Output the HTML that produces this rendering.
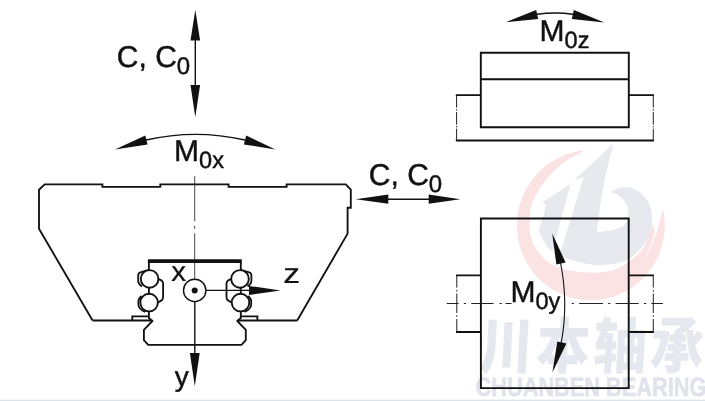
<!DOCTYPE html>
<html lang="zh">
<head>
<meta charset="utf-8">
<title>C, C0, M0x, M0y, M0z</title>
<style>
html,body{margin:0;padding:0;background:#fff;}
body{width:705px;height:401px;overflow:hidden;position:relative;}
svg{position:absolute;left:0;top:0;display:block;will-change:transform;}
text{text-rendering:geometricPrecision;font-family:"Liberation Sans","Noto Sans CJK SC",sans-serif;fill:#111;}
.o{fill:none;stroke:#111;stroke-width:1.85;stroke-linejoin:miter;stroke-linecap:butt;}
.t{fill:none;stroke:#111;stroke-width:1.4;}
.l{stroke:#111;stroke-width:0.45;}
.k{fill:none;stroke:#111;stroke-width:3.6;}
.c{fill:none;stroke:#222;stroke-width:1;}
.h{fill:#111;stroke:none;}
.b{fill:#fff;stroke:#111;stroke-width:1.9;}
.p{fill:none;stroke:#111;stroke-width:1.9;}
.r{fill:none;stroke:#111;stroke-width:1.8;}
</style>
</head>
<body>
<svg width="705" height="401" viewBox="0 0 705 401">
<rect x="0" y="0" width="705" height="401" fill="#fff"/>
<rect x="0" y="399" width="705" height="1" fill="#f3f6f7"/><rect x="0" y="400" width="705" height="1" fill="#dce3e7"/>

<!-- watermark logo -->
<g id="logo">
<path d="M584.9 150.3 A73.9 75.2 0 1 0 662.9 208.5 Q660.5 218 657.6 228 Q654 244 644 259.5 Q651.5 246 654.8 232 L653 224 C652.3 225.8 651.1 230.4 649.0 235.0 C646.9 239.6 646.0 245.8 640.5 251.5 C635.0 257.2 625.5 265.8 616.0 269.3 C606.5 272.8 594.5 273.1 583.8 272.3 C573.0 271.5 560.0 269.2 551.5 264.3 C543.0 259.4 536.4 250.1 532.8 242.7 C529.1 235.3 529.6 226.8 529.6 220.0 C529.6 213.2 530.1 208.3 532.8 201.7 C535.4 195.1 540.5 186.8 545.5 180.4 C550.5 174.0 556.0 168.4 562.6 163.4 C569.2 158.4 581.2 152.7 584.9 150.5 Z" fill="#fbe3e3"/>
<path d="M542.6 202 L570.5 184 L552.5 251.5 Q549.5 249.5 547.2 246.5 Q541 238 539 229 L543 217 L546 205 Z" fill="#e7e9ef"/>
<path d="M573.9 180.3 L592.3 163.4 L613.2 143.8 L605.8 175 L601.3 197.4 L596.8 232 Q611.4 232 622.6 226.6 Q628.4 222 628.4 213 Q628 204 622 198 Q617 193.5 610.3 192 Q621 185 633.5 188.5 Q646.5 194 651 209 Q653.5 222 650 234 Q642.5 251 626.5 260.5 Q606 267.5 587 264 Q571 261 559.5 255.5 L583.5 177.4 Z" fill="#e7e9ef"/>
</g>
<!-- watermark text -->
<g transform="translate(478.5,368.2) skewX(-3) scale(0.9,1.01)">
<text x="0" y="0" font-size="59.3" font-weight="900" letter-spacing="4" style="fill:#e6e8ef">川本轴承</text>
</g>
<text x="475.5" y="396.4" font-size="26.5" font-weight="bold" style="fill:#e0e3eb;stroke:#e0e3eb;stroke-width:0.7" textLength="231" lengthAdjust="spacingAndGlyphs">CHUANBEN BEARING</text>

<!-- ============ left figure ============ -->
<!-- centre line -->
<path class="c" style="stroke:#333;stroke-width:0.9" d="M194.7 176.2 V221.3 M194.7 226 V228.8 M194.7 233.3 V280"/>
<path class="t" d="M194.8 301 V354"/>
<!-- carriage -->
<path class="o" d="M92.6 320.5 L39 228.8 V189.7 L44.7 184.4 H102.4 V186.8 H160.3 V184.4 H228.6 V186.8 H286.6 V184.4 H345.8 L350.8 189.7 V207.7 H347.6 V233.6 L297.2 320.5"/>
<path class="o" d="M92.6 320.5 H152.4"/>
<path class="o" d="M297.2 320.5 H237.3"/>
<!-- seals -->
<path class="o" d="M132.3 320.5 V316.3 H149"/>
<path class="o" d="M257.4 320.5 V316.3 H240.7"/>
<!-- rail -->
<path class="k" d="M147.9 261.1 H241.7"/>
<path class="o" d="M148.9 261 V318 L152.4 321 L143.9 329.8 V340.2 L148.2 344.8 H241.5 L245.8 340.2 V329.8 L237.3 321 L240.8 318 V261"/>
<!-- raceways left -->
<path class="r" d="M148.0 270.2 L140.4 272.4 Q138.2 273 138.2 275.6 V280.5 Q138.2 284 142.0 286.5"/>
<path class="r" d="M141.5 296 Q138.4 298.5 138.4 301.5 V304.5 Q138.6 309 145.0 312"/>
<path class="r" d="M157.5 278.6 L161.4 280.4 Q163.1 281.4 163.1 283.6 V297 Q163.1 299.5 161.2 300.6 L157.5 302.7"/>
<circle class="b" cx="149.6" cy="278.9" r="8.8"/>
<circle class="b" cx="149.1" cy="302.6" r="8.8"/>
<!-- raceways right -->
<path class="r" d="M241.6 270.2 L249.2 272.4 Q251.4 273 251.4 275.6 V280.5 Q251.4 284 247.6 286.5"/>
<path class="r" d="M248.1 296 Q251.2 298.5 251.2 301.5 V304.5 Q251.0 309 244.6 312"/>
<path class="r" d="M232.1 278.6 L228.2 280.4 Q226.5 281.4 226.5 283.6 V297 Q226.5 299.5 228.4 300.6 L232.1 302.7"/>
<circle class="b" cx="240.0" cy="278.9" r="8.8"/>
<circle class="b" cx="240.5" cy="302.6" r="8.8"/>
<!-- origin -->
<circle cx="194.7" cy="290.4" r="11.2" fill="#fff" stroke="#111" stroke-width="1.4"/>
<circle cx="194.7" cy="290.4" r="3" class="h"/>
<!-- z arrow -->
<path class="t" d="M206 290.4 H250"/>
<path class="h" d="M249 285.9 L280.5 290.4 L249 294.9 Z"/>
<!-- y arrow -->
<path class="h" d="M189.9 353.1 L194.8 386.3 L199.7 353.1 Z"/>
<text transform="translate(171.2,281) scale(1.06,1)" font-size="28" style="stroke:#111;stroke-width:0.2">x</text>
<text transform="translate(283.2,283) scale(1.2,1)" font-size="28" style="stroke:#111;stroke-width:0.2">z</text>
<text class="l" x="174.8" y="386.2" font-size="28">y</text>

<!-- C, C0 vertical arrow -->
<path class="t" d="M195.3 39 V86"/>
<path class="h" d="M190.5 40.4 L195.3 9.8 L200.1 40.4 Z"/>
<path class="h" d="M190.5 85 L195.3 117.2 L200.1 85 Z"/>
<text class="l" x="116.8" y="66.8" font-size="30">C, C<tspan dy="7.2" font-size="24">0</tspan></text>

<!-- M0x arc -->
<path class="t" d="M146 140 A225 225 0 0 1 245 140"/>
<path class="h" d="M115 149.4 L145.3 135.6 L147.6 144.6 Z"/>
<path class="h" d="M275.4 149.4 L246.2 135.6 L243.9 144.4 Z"/>
<text class="l" x="174.1" y="161.2" font-size="30">M<tspan dy="7" font-size="23.5">0x</tspan></text>

<!-- C, C0 horizontal arrow -->
<path class="t" d="M387 199.2 H430"/>
<path class="h" d="M388.3 194.6 L355.7 199.2 L388.3 203.8 Z"/>
<path class="h" d="M428.7 194.6 L460.2 199.2 L428.7 203.8 Z"/>
<text class="l" x="368.8" y="185.2" font-size="30">C, C<tspan dy="7.2" font-size="24">0</tspan></text>

<!-- ============ top right figure ============ -->
<path class="p" d="M480.8 52.7 H628.8 V127.2 H480.8 Z M480.8 79.2 H628.8"/>
<path class="p" d="M480.8 95.1 H455.8 M628.8 95.1 H653.9 M455.8 140.5 H653.9"/>
<path class="c" d="M456.6 95 V107.6 M456.6 109.2 V110.6 M456.6 112 V124.7 M456.6 126 V127.4 M456.6 128.6 V140.5"/>
<path class="c" d="M653.3 95 V107.6 M653.3 109.2 V110.6 M653.3 112 V124.7 M653.3 126 V127.4 M653.3 128.6 V140.5"/>
<path class="t" d="M537 14.3 A132 132 0 0 1 573 14.3"/>
<path class="h" d="M505.6 22.3 L536.2 9.9 L538.2 18.9 Z"/>
<path class="h" d="M604.4 22.6 L573.8 9.9 L571.8 18.9 Z"/>
<text class="l" x="539.6" y="41.1" font-size="30">M<tspan dy="7.3" font-size="23.5">0z</tspan></text>

<!-- ============ bottom right figure ============ -->
<path class="p" d="M480.9 218.5 H628.7 V388.1 H480.9 Z"/>
<path class="p" d="M480.9 275.4 H456 M480.9 332 H456 M628.7 275.4 H653.9 M628.7 332 H653.9"/>
<path class="c" d="M456.8 275.4 V287.6 M456.8 289.9 V291.5 M456.8 293.6 V313 M456.8 315.4 V317 M456.8 319 V332 M653.3 275.4 V287.6 M653.3 289.9 V291.5 M653.3 293.6 V313 M653.3 315.4 V317 M653.3 319 V332"/>
<path class="c" d="M446.7 303.5 H458.6 M463.8 303.5 H466 M471.3 303.5 H493.6 M499.6 303.5 H501.8 M505.5 303.5 H511.5 M571.7 303.5 H573.9 M579.1 303.5 H603 M608.2 303.5 H610.4 M615.6 303.5 H638.7 M644 303.5 H646.2 M651.4 303.5 H662.9"/>
<path class="t" style="stroke-width:1.1" d="M560.6 263 Q568.6 303.5 561.2 343"/>
<path class="h" d="M552.2 233.6 L556.4 264.6 L565.6 262.4 Z"/>
<path class="h" d="M552.4 372.4 L557.3 341.6 L566.4 343.6 Z"/>
<text class="l" x="510.5" y="302.4" font-size="30">M<tspan dy="7" font-size="23.5">0y</tspan></text>
</svg>
</body>
</html>
